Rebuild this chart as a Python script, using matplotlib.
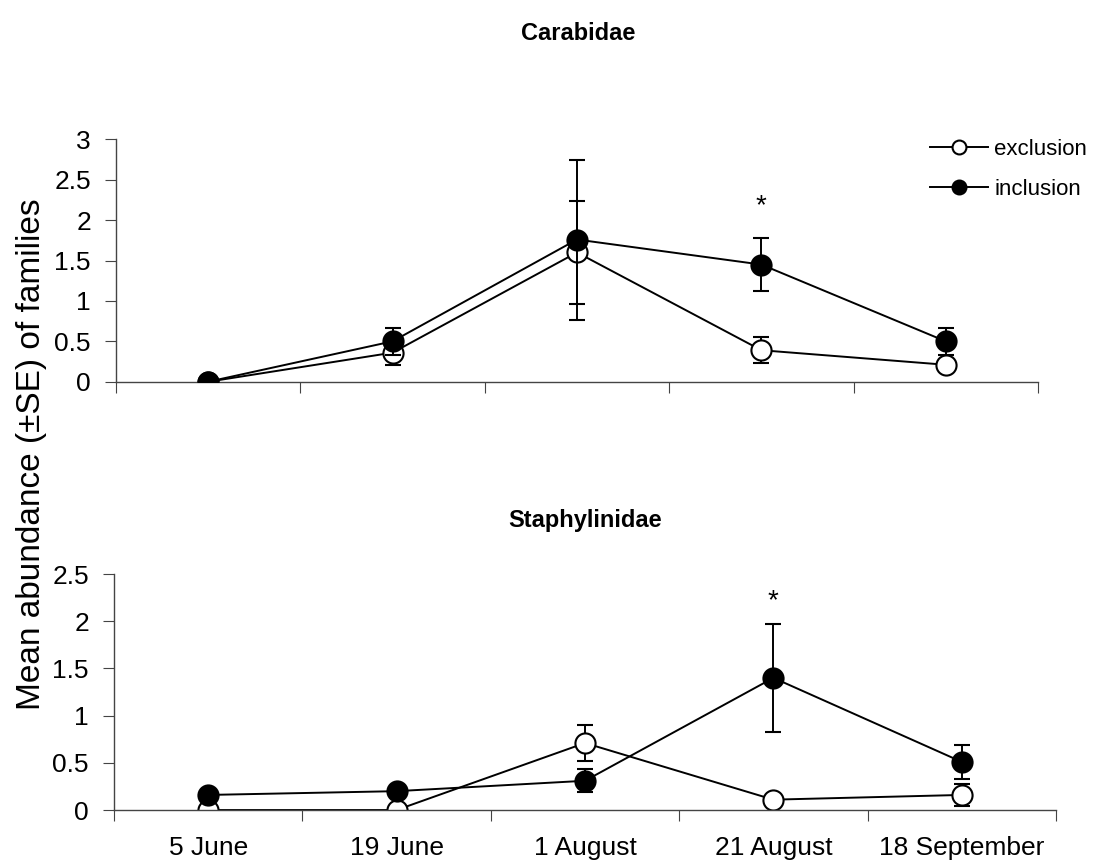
import matplotlib.pyplot as plt
from matplotlib.lines import Line2D
from matplotlib.ticker import FixedLocator

plt.rcParams['font.family'] = ['Liberation Sans', 'DejaVu Sans']

dates = ['5 June', '19 June', '1 August', '21 August', '18 September']

# Carabidae
car_excl = [0.0, 0.36, 1.60, 0.39, 0.21]
car_excl_se = [0.0, 0.15, 0.64, 0.16, 0.05]
car_incl = [0.0, 0.50, 1.76, 1.45, 0.50]
car_incl_se = [0.0, 0.17, 0.99, 0.33, 0.17]

# Staphylinidae
sta_excl = [0.0, 0.0, 0.71, 0.11, 0.16]
sta_excl_se = [0.0, 0.0, 0.19, 0.0, 0.12]
sta_incl = [0.16, 0.20, 0.31, 1.40, 0.51]
sta_incl_se = [0.0, 0.0, 0.12, 0.57, 0.18]

car_star = 2.17
sta_star = 2.21
star_pos = 3

fig = plt.figure(figsize=(10.97, 8.67), dpi=100)
ax_top = fig.add_axes([0.1057, 0.5597, 0.8405, 0.2796])
ax_bot = fig.add_axes([0.1039, 0.0657, 0.8587, 0.2722])

x = list(range(len(dates)))


def draw(ax, excl, excl_se, incl, incl_se, ymax, step):
    ax.errorbar(x, excl, yerr=excl_se, color='black', lw=1.4, marker='o',
                ms=14.5, mfc='white', mec='black', mew=1.5, capsize=6,
                capthick=1.4, elinewidth=1.4, zorder=2)
    ax.errorbar(x, incl, yerr=incl_se, color='black', lw=1.4, marker='o',
                ms=14.5, mfc='black', mec='black', mew=1.5, capsize=6,
                capthick=1.4, elinewidth=1.4, zorder=3)
    n = int(round(ymax / step)) + 1
    ax.set_xlim(-0.5, len(dates) - 0.5)
    ax.set_ylim(0, ymax)
    ax.set_yticks([i * step for i in range(n)])
    ax.set_yticklabels(['%g' % (i * step) for i in range(n)])
    ax.xaxis.set_major_locator(FixedLocator([i - 0.5 for i in range(len(dates) + 1)]))
    ax.xaxis.set_minor_locator(FixedLocator(x))
    ax.tick_params(axis='x', which='major', length=8, direction='out',
                   labelbottom=False, color='#444444')
    ax.tick_params(axis='x', which='minor', length=0, labelsize=19, pad=19)
    ax.tick_params(axis='y', length=8, direction='out', labelsize=19,
                   color='#444444', pad=10)
    for s in ['top', 'right']:
        ax.spines[s].set_visible(False)
    for s in ['left', 'bottom']:
        ax.spines[s].set_color('#444444')
        ax.spines[s].set_linewidth(1.0)


draw(ax_top, car_excl, car_excl_se, car_incl, car_incl_se, 3, 0.5)
draw(ax_bot, sta_excl, sta_excl_se, sta_incl, sta_incl_se, 2.5, 0.5)
ax_bot.set_xticklabels(dates, minor=True)

ax_top.text(star_pos, car_star, '*', ha='center', va='center', fontsize=20)
ax_bot.text(star_pos, sta_star, '*', ha='center', va='center', fontsize=20)

handles = [
    Line2D([], [], color='black', lw=1.4, marker='o', ms=10, mfc='white',
           mec='black', mew=1.5),
    Line2D([], [], color='black', lw=1.4, marker='o', ms=10, mfc='black',
           mec='black', mew=1.5),
]
fig.legend(handles, ['exclusion', 'inclusion'], loc='upper left',
           bbox_to_anchor=(930 / 1097, 1 - 139 / 867), frameon=False,
           fontsize=16, handlelength=2.6, handletextpad=0.3,
           labelspacing=0.85, borderpad=0, borderaxespad=0)

fig.text(578 / 1097, 1 - 33 / 867, 'Carabidae', ha='center', va='center',
         fontsize=17, fontweight='bold')
fig.text(585 / 1097, 1 - 521 / 867, 'Staphylinidae', ha='center', va='center',
         fontsize=17, fontweight='bold')
fig.text(0.029, 0.476, 'Mean abundance (\u00b1SE) of families', rotation=90,
         ha='center', va='center', fontsize=24)

fig.savefig('out.png', dpi=100)
